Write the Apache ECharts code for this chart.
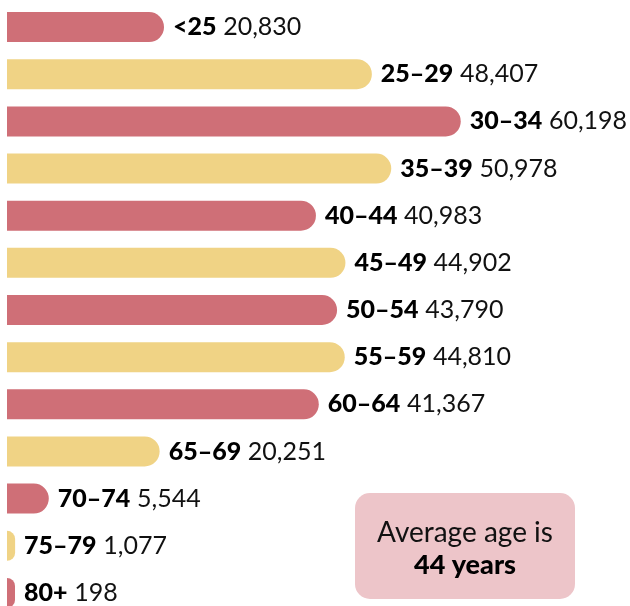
<!DOCTYPE html>
<html>
<head>
<meta charset="utf-8">
<script src="https://cdn.jsdelivr.net/npm/echarts@6/dist/echarts.min.js"></script>
<style>
  html, body { margin: 0; padding: 0; background: #fff; }
  #chart { width: 630px; height: 606px; }
</style>
</head>
<body>
<div id="chart"></div>
<script>
// age groups, top to bottom
const ageGroups = ['<25', '25–29', '30–34', '35–39', '40–44', '45–49', '50–54', '55–59', '60–64', '65–69', '70–74', '75–79', '80+'];
const counts = [20830, 48407, 60198, 50978, 40983, 44902, 43790, 44810, 41367, 20251, 5544, 1077, 198];
const barColors = ['#cf6f77', '#f0d385'];

const chart = echarts.init(document.getElementById('chart'));

chart.setOption({
  animation: false,
  grid: { left: 7, top: 3.5, height: 613, width: 603, outerBoundsMode: 'none' },
  xAxis: { type: 'value', min: 0, max: 80000, show: false },
  yAxis: {
    type: 'category',
    data: ageGroups,
    inverse: true,
    show: false
  },
  series: [{
    type: 'bar',
    data: counts,
    barWidth: 30,
    barMinHeight: 8,
    itemStyle: {
      borderRadius: [0, 15, 15, 0],
      color: (p) => barColors[p.dataIndex % 2]
    },
    label: {
      show: true,
      position: 'right',
      distance: 9,
      formatter: (p) => '{b|' + p.name + '}  {v|' + p.value.toLocaleString('en-US') + '}',
      rich: {
        b: { fontFamily: 'Lato', fontWeight: 900, fontSize: 25, color: '#000' },
        v: { fontFamily: 'Lato', fontWeight: 400, fontSize: 25, color: '#111' }
      }
    }
  }],
  graphic: [
    {
      type: 'rect',
      shape: { x: 355, y: 493, width: 220, height: 106, r: 15 },
      style: { fill: '#edc5c9' }
    },
    {
      type: 'text',
      x: 465, y: 533,
      style: {
        text: 'Average age is',
        font: '400 28px Lato',
        fill: '#111',
        align: 'center',
        verticalAlign: 'middle'
      }
    },
    {
      type: 'text',
      x: 465, y: 565,
      style: {
        text: '44 years',
        font: '900 27px Lato',
        fill: '#000',
        align: 'center',
        verticalAlign: 'middle'
      }
    }
  ]
});
</script>
</body>
</html>
